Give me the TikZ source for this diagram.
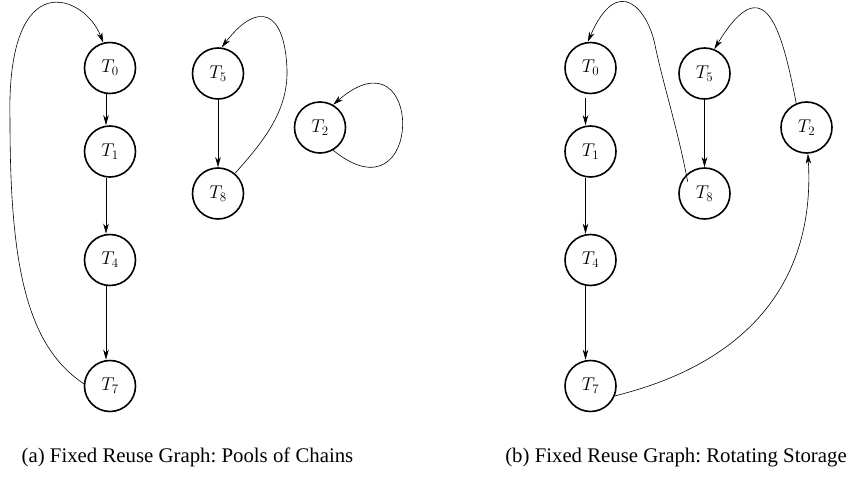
\RequirePackage{fix-cm}
\documentclass[tikz,border=0pt]{standalone}
\usepackage[no-math]{fontspec}
\setmainfont{Liberation Serif}
\usetikzlibrary{arrows.meta,calc}
\frenchspacing

\tikzset{
  task/.style={circle, draw, line width=1.6pt, minimum size=51pt, inner sep=0pt,
    font=\fontsize{18.5}{22}\selectfont},
  flow/.style={-{Stealth[length=10pt,width=5.5pt,inset=3pt]}, line width=0.6pt},
  subcap/.style={anchor=base, font=\fontsize{20.8}{25}\selectfont}
}

\begin{document}
\begin{tikzpicture}[x=1pt, y=-1pt]
\useasboundingbox (0,0) rectangle (850,479);

% ---- (a) pools of chains ----
\node[task] (A0) at (110,68)    {$T_0$\hspace{12pt}};
\node[task] (A1) at (110,151.5) {$T_1$\hspace{22pt}};
\node[task] (A4) at (110,260)   {$T_4$\hspace{12pt}};
\node[task] (A7) at (110,386)   {$T_7$\hspace{12pt}};
\node[task] (A5) at (218,73.5)  {$T_5$\hspace{12pt}};
\node[task] (A8) at (218,193.5) {$T_8$\hspace{12pt}};
\node[task] (A2) at (320,127.5) {$T_2$\hspace{12pt}};

\draw[flow] ([xshift=-4pt]A0.south) -- ([xshift=-4pt]A1.north);
\draw[flow] ([xshift=-4pt]A1.south) -- ([xshift=-4pt]A4.north);
\draw[flow] ([xshift=-4pt]A4.south) -- ([xshift=-4pt]A7.north);
\draw[flow] (A5.south) -- (A8.north);

\draw[flow] (A7.175) .. controls (25,345) and (10,260) .. (10,120)
            .. controls (6,-38) and (85,-5) .. (A0.105);
\draw[flow] (A8.50) .. controls (265,140) and (288,110) .. (287,70)
            .. controls (285,10) and (258,0) .. (A5.82);
\draw[flow] (A2.-60) .. controls (425,225) and (425,25) .. (A2.60);

\node[subcap] (capA) at (187.5,462) {(a) Fixed Reuse Graph: Pools of Chains};

% ---- (b) rotating storage ----
\node[task] (B0) at (590.5,68)    {$T_0$\hspace{12pt}};
\node[task] (B1) at (590.5,151.5) {$T_1$\hspace{12pt}};
\node[task] (B4) at (590.5,260)   {$T_4$\hspace{12pt}};
\node[task] (B7) at (590.5,386)   {$T_7$\hspace{12pt}};
\node[task] (B5) at (704.5,73.5)  {$T_5$\hspace{12pt}};
\node[task] (B8) at (704.5,193.5) {$T_8$\hspace{12pt}};
\node[task] (B2) at (806.5,127.5) {$T_2$\hspace{12pt}};

\draw[flow, shorten <=4pt] ([xshift=-5pt]B0.south) -- ([xshift=-5pt]B1.north);
\draw[flow] ([xshift=-5pt]B1.south) -- ([xshift=-5pt]B4.north);
\draw[flow] ([xshift=-5pt]B4.south) -- ([xshift=-5pt]B7.north);
\draw[flow] (B5.south) -- (B8.north);

\draw[flow] ($(B8)!0.78!(B8.145)$) .. controls (678,130) and (662,80) .. (655,45)
            .. controls (648,10) and (618,-28) .. (B0.96);
\draw[flow] (B2.113) .. controls (782,30) and (765,-35) .. (B5.68);
\draw[flow] (B7.-22) .. controls (760,360) and (815,270) .. (B2.-87);

\node[subcap] (capB) at (676,462) {(b) Fixed Reuse Graph: Rotating Storage};
\end{tikzpicture}
\end{document}
